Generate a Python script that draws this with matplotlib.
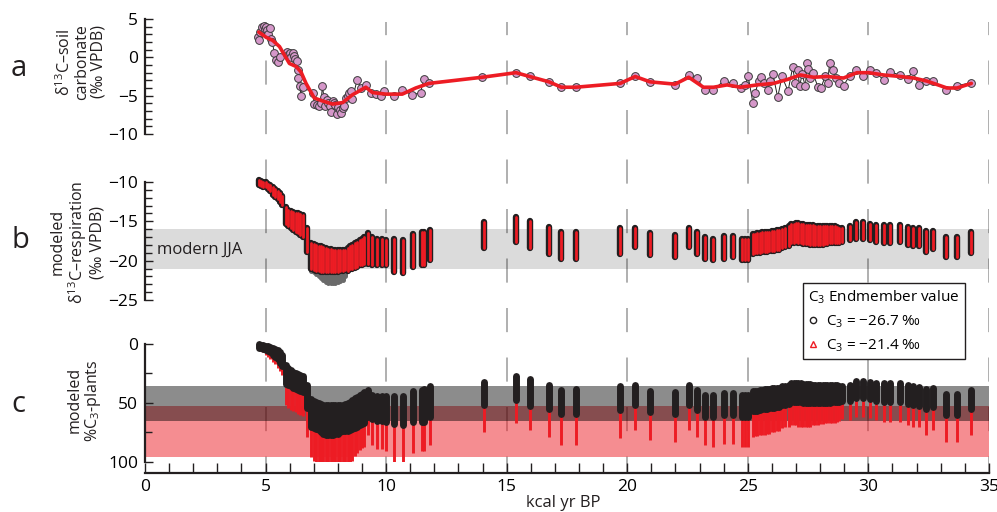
import matplotlib
matplotlib.use('Agg')
import matplotlib.pyplot as plt
from matplotlib.lines import Line2D
from matplotlib.ticker import MultipleLocator

plt.rcParams['font.family'] = ['Open Sans', 'DejaVu Sans']
plt.rcParams['mathtext.fontset'] = 'custom'
plt.rcParams['mathtext.rm'] = 'Open Sans'
plt.rcParams['mathtext.default'] = 'regular'

# --- panel a: soil carbonate d13C (kyr BP, per mil)
carb_age = [4.68, 4.72, 4.78, 4.85, 4.92, 4.98, 5.03, 5.08, 5.12, 5.17, 5.22, 5.28,
            5.37, 5.44, 5.51, 5.58, 5.88, 5.95, 6.02, 6.06, 6.13, 6.2, 6.24, 6.3,
            6.33, 6.36, 6.42, 6.47, 6.54, 6.96, 7.02, 7.12, 7.2, 7.3, 7.36, 7.42,
            7.48, 7.54, 7.6, 7.66, 7.71, 7.78, 7.84, 7.9, 7.95, 8.02, 8.08, 8.13,
            8.2, 8.27, 8.33, 8.4, 8.47, 8.54, 8.6, 8.8, 8.95, 9.16, 9.37, 9.57,
            9.78, 9.92, 10.33, 10.67, 11.09, 11.43, 11.57, 11.78, 13.98, 15.39,
            15.95, 16.76, 17.27, 17.87, 19.71, 20.33, 20.95, 21.98, 22.55, 22.89,
            23.23, 23.54, 24.0, 24.38, 24.73, 24.9, 25.01, 25.21, 25.31, 25.45,
            25.56, 25.66, 25.82, 25.93, 26.04, 26.24, 26.42, 26.67, 26.86, 26.97,
            27.07, 27.15, 27.25, 27.39, 27.45, 27.48, 27.59, 27.7, 27.91, 28.03,
            28.22, 28.31, 28.39, 28.53, 28.67, 28.77, 28.97, 29.22, 29.5, 29.78,
            30.05, 30.33, 30.66, 30.91, 31.3, 31.63, 31.84, 32.08, 32.4, 32.67,
            33.23, 33.68, 34.27]
carb_d13c = [2.6, 2.2, 3.3, 4.0, 4.1, 3.7, 4.0, 3.5, 3.0, 3.8, 2.4, 2.0,
             0.5, -0.4, -0.6, 0.1, 0.7, 0.3, 0.6, 0.0, 0.6, 0.2, -0.2, -0.5,
             -1.6, -2.7, -3.8, -5.0, -3.9, -4.6, -6.1, -6.2, -6.3, -6.0, -3.7, -5.2,
             -6.4, -5.6, -5.9, -6.3, -7.1, -5.7, -6.0, -6.2, -7.4, -6.5, -6.9, -7.2,
             -6.6, -6.3, -5.3, -5.1, -4.7, -4.4, -5.5, -2.9, -4.0, -3.6, -4.6, -4.8,
             -5.0, -4.4, -5.1, -4.3, -4.9, -4.6, -2.8, -3.3, -2.6, -2.0,
             -2.5, -3.2, -3.9, -3.9, -3.4, -2.5, -3.2, -3.6, -2.3, -2.7,
             -4.3, -4.3, -3.1, -3.4, -4.0, -3.6, -2.4, -5.9, -4.6, -3.1,
             -2.6, -3.4, -4.3, -3.1, -2.2, -5.2, -2.5, -4.4, -1.3, -3.3,
             -1.7, -3.8, -2.2, -3.8, -0.7, -1.5, -2.7, -2.0, -3.9, -4.0,
             -2.4, -3.4, -0.8, -1.7, -2.7, -3.4, -3.7, -2.4, -1.6, -2.5,
             -1.7, -2.1, -3.0, -1.9, -2.3, -2.8, -1.8, -3.6, -3.1, -3.1,
             -4.2, -3.7, -3.3]
smooth_age = [4.72, 5.03, 5.3, 5.58, 5.99, 6.27, 6.47, 6.68, 7.02, 7.37, 7.78, 8.2,
              8.6, 9.16, 9.44, 9.99, 10.67, 11.23, 11.78, 13.98, 15.39, 15.95, 16.76,
              17.27, 17.87, 19.71, 20.33, 20.95, 21.98, 22.55, 23.16, 23.58, 24.14,
              24.69, 25.38, 26.07, 26.63, 27.18, 27.73, 28.28, 28.97, 29.53, 30.01,
              30.63, 31.32, 31.88, 32.43, 33.26, 33.68, 34.27]
smooth_d13c = [3.3, 2.6, 2.2, 1.4, -0.8, -1.2, -1.9, -3.4, -5.3, -5.7, -6.1, -5.9,
               -4.9, -3.9, -4.6, -4.8, -4.8, -4.0, -3.4, -2.6, -2.0, -2.5, -3.2,
               -3.9, -3.9, -3.4, -2.5, -3.2, -3.5, -2.6, -3.9, -3.9, -3.6,
               -3.9, -3.6, -3.4, -2.9, -2.3, -2.6, -2.5, -2.7, -2.0, -2.0,
               -2.3, -2.5, -2.7, -3.1, -4.0, -4.0, -3.4]

# --- panels b and c: model ranges at each age
model_age = [4.72, 4.8, 4.9, 5.0, 5.1, 5.2, 5.3, 5.4, 5.5, 5.6, 5.7,
             5.85, 5.95, 6.05, 6.15, 6.25, 6.35, 6.45, 6.55,
             6.74,
             6.9, 7.0, 7.1, 7.2, 7.3, 7.4, 7.5, 7.6, 7.7, 7.8, 7.9, 8.0, 8.1, 8.2, 8.3,
             8.4, 8.5, 8.6, 8.7, 8.8, 8.9, 9.0, 9.1,
             9.23, 9.43, 9.61, 9.82, 9.99, 10.32, 10.71, 11.12, 11.47, 11.58, 11.81,
             14.04, 15.39, 15.95, 16.76, 17.27, 17.87, 19.71, 20.33, 20.95, 21.98,
             22.55, 22.89, 23.23, 23.54, 24.0, 24.38, 24.75, 24.9, 25.02,
             25.2, 25.3, 25.4, 25.5, 25.6, 25.7, 25.8, 25.9, 26.0, 26.1, 26.2, 26.3,
             26.4, 26.55, 26.7,
             26.8, 26.9, 27.0, 27.1, 27.2, 27.3, 27.4, 27.5, 27.6, 27.7, 27.8, 27.9,
             28.0, 28.1, 28.2, 28.3, 28.4, 28.5, 28.6, 28.7, 28.8, 28.9,
             29.22, 29.5, 29.78, 30.05, 30.33, 30.66, 30.91, 31.3, 31.63, 31.84,
             32.08, 32.4, 32.67, 33.23, 33.68, 34.27]

resp_hi = [-9.8, -9.9, -10.0, -10.0, -10.2, -10.4, -10.6, -10.9, -11.1, -11.4, -11.8,
           -13.2, -13.5, -13.7, -13.8, -13.9, -14.0, -14.1, -14.2,
           -15.9,
           -17.8, -17.9, -18.0, -18.1, -18.2, -18.3, -18.4, -18.5, -18.5, -18.6, -18.6,
           -18.7, -18.7, -18.7, -18.6,
           -18.4, -18.2, -18.0, -17.8, -17.6, -17.4, -17.2, -17.0,
           -16.5, -17.0, -17.2, -17.3, -17.4, -17.3, -17.4, -16.6, -16.3, -16.3, -16.1,
           -15.1, -14.5, -14.9, -15.7, -16.3, -16.3, -15.8, -15.8, -16.5, -16.8,
           -15.8, -16.3, -17.0, -17.2, -16.9, -16.9, -17.2, -17.2, -17.2,
           -16.6, -16.6, -16.5, -16.5, -16.4, -16.4, -16.3, -16.3, -16.2, -16.2, -16.1, -16.1,
           -16.0, -15.8, -15.6,
           -15.4, -15.3, -15.2, -15.2, -15.3, -15.4, -15.5, -15.5, -15.5, -15.5, -15.6,
           -15.6, -15.6, -15.6, -15.6, -15.6, -15.6, -15.6, -15.6, -15.7, -15.8, -15.9,
           -15.6, -15.1, -15.1, -15.3, -15.5, -15.5, -15.5, -15.5, -15.7, -15.8,
           -15.9, -16.2, -16.2, -17.0, -17.0, -16.3]
resp_lo = [-10.4, -10.5, -10.6, -10.7, -10.9, -11.2, -11.6, -11.9, -12.2, -12.5, -12.9,
           -15.3, -15.6, -15.9, -16.1, -16.3, -16.5, -16.8, -17.0,
           -18.9,
           -21.0, -21.2, -21.3, -21.3, -21.4, -21.4, -21.4, -21.4, -21.4, -21.4, -21.4,
           -21.4, -21.3, -21.3, -21.2,
           -21.3, -21.1, -21.0, -20.9, -20.8, -20.6, -20.5, -20.4,
           -20.4, -20.6, -20.6, -20.6, -20.6, -21.4, -21.6, -20.8, -20.6, -20.6, -19.9,
           -18.4, -17.6, -18.4, -19.1, -19.8, -19.8, -19.2, -18.3, -19.3, -19.6,
           -18.3, -19.2, -19.8, -19.9, -19.8, -19.6, -19.9, -19.9, -19.9,
           -19.1, -19.0, -19.0, -19.0, -18.9, -18.9, -18.9, -18.8, -18.8, -18.8, -18.7, -18.7,
           -18.4, -18.3, -18.2,
           -17.8, -17.7, -17.6, -17.7, -17.8, -17.9, -17.9, -17.9, -18.0, -18.0, -18.0,
           -18.0, -18.0, -18.0, -17.9, -17.9, -17.8, -17.8, -17.8, -17.7, -17.7, -17.6,
           -17.4, -17.2, -17.3, -17.4, -17.6, -17.7, -17.7, -17.6, -18.0, -18.1,
           -18.1, -18.9, -18.5, -19.5, -19.5, -19.0]

# black circles reaching lower than the red ones around 7-8 kyr
deep_age = [6.9, 7.0, 7.1, 7.2, 7.3, 7.4, 7.5, 7.6, 7.7, 7.8, 7.9, 8.0, 8.1, 8.2, 8.3]
deep_hi = [-21.0, -21.2, -21.3, -21.3, -21.4, -21.4, -21.4, -21.4, -21.4, -21.4, -21.4,
           -21.4, -21.3, -21.3, -21.2]
deep_lo = [-21.3, -21.5, -21.7, -21.9, -22.2, -22.5, -22.7, -22.8, -22.8, -22.8, -22.8,
           -22.7, -22.6, -22.4, -22.0]

c3_top = [0, 0.5, 1, 1.5, 2, 2.5, 3.5, 4.5, 5.5, 7, 9,
          18, 20, 22, 23.5, 24.5, 25.5, 26.5, 27.5,
          35,
          47, 48, 49, 50, 51, 51.5, 52, 52, 52, 52, 52, 52, 52, 51.5, 51,
          50, 49, 47.5, 46, 45, 43.5, 42, 41,
          39, 43, 44, 44.5, 44, 44, 44.5, 40, 39, 38.5, 36,
          32, 27, 30, 35, 39, 38.4, 35.6, 35, 39.8, 41, 35, 39, 43.2, 43.2, 41.2, 41.2,
          43, 43, 43,
          40, 40, 39.5, 39, 39, 38.5, 38, 38, 37.5, 37.5, 37, 37,
          36, 35.5, 34.5,
          33, 32.8, 32.8, 33, 33.5, 34, 34, 34, 34.2, 34.4, 34.6, 34.6, 34.6, 34.6,
          34.6, 34.5, 34.5, 34.5, 34.5, 35, 35.5, 36,
          34.7, 31, 31, 31.9, 33.3, 33.3, 33.3, 33.3, 34.7, 35.6, 36.2, 38.4, 37.6,
          42.4, 42.4, 39]
c3_black_bot = [3, 3.5, 4, 5, 6, 7, 9, 11, 13, 16, 19,
                34, 35, 36, 37, 38, 39, 40, 41,
                54,
                70, 71, 72, 73, 75, 76, 77, 77, 77, 77, 76, 76, 75, 74, 74,
                74, 73, 72, 71, 70, 69, 68, 67,
                62, 64, 65.5, 65.5, 66, 68, 69, 66.5, 66, 66, 61.6,
                51.7, 47.5, 52.5, 55, 59, 59.3, 56, 51.7, 57.3, 59.3, 51.7, 56, 61.6,
                61.6, 60.2, 60.2, 61.6, 61.6, 61.6,
                57, 57, 56.5, 56, 55.5, 55, 55, 54.5, 54, 54, 53.5, 53,
                52, 51.5, 51,
                49, 49, 49, 49.2, 49.5, 49.8, 49.8, 50, 50.2, 50.4, 50.4, 50.4, 50.4,
                50.2, 50, 50, 49.8, 49.6, 49.4, 49.2, 49, 48.6,
                48, 46, 46, 46.9, 48, 48.9, 48.9, 48.9, 50.8, 51.7, 52.5, 55.4, 53.1,
                60.2, 60.2, 55.4]
c3_red_bot = [5, 6, 7, 9, 11, 13, 15, 17, 20, 23, 26,
              52, 54, 56, 57, 58, 59, 60, 61,
              79,
              96, 99, 100, 100, 100, 100, 100, 100, 100, 100, 100, 100, 100, 100, 100,
              100, 100, 99, 95, 92, 90, 88, 87,
              77, 86, 89, 89, 91, 100, 100, 92, 91, 91, 86,
              74.3, 67, 73, 79, 85.6, 85.6, 80, 73, 81.4, 82.8, 73, 78.5, 85.6, 87,
              84.7, 84.7, 87, 87, 87,
              79, 78, 78, 77, 77, 77, 76, 76, 75, 75, 74, 74,
              71, 70, 70,
              69, 69, 69, 70, 70, 70, 70, 70, 70, 69, 69, 69, 68, 68, 67, 67, 67, 67,
              67, 66, 65, 64,
              64.4, 61.6, 61.6, 63, 64.4, 65.8, 65.8, 65.8, 68.6, 70.1, 70.1, 77.1,
              72.9, 82.8, 82.8, 77.1]

modern_resp = [-21, -16]       # modern JJA respiration band
c3_band_black = [35.6, 65.3]   # range for C3 = -26.7
c3_band_red = [52.5, 96]       # range for C3 = -21.4
grid_ages = [5, 10, 15, 20, 25, 30, 35]

RED = '#ed1c24'
INK = '#231f20'

fig = plt.figure(figsize=(9.97, 5.12), dpi=100)
L, W = 0.1454, 0.8465

# dashed guide lines behind all panels (y in pixels from the top)
ax_bg = fig.add_axes([L, 0, W, 1], zorder=0)
ax_bg.set_xlim(0, 35)
ax_bg.set_ylim(512, 0)
ax_bg.axis('off')
for g in grid_ages:
    ax_bg.plot([g, g], [22, 473], color='#9a9a9a', lw=1.1,
               linestyle=(7.2, (15.8, 16.6)))


def style_left(ax):
    for s in ['top', 'right', 'bottom']:
        ax.spines[s].set_visible(False)
    ax.spines['left'].set_linewidth(1.6)
    ax.spines['left'].set_color(INK)
    ax.patch.set_alpha(0)
    ax.set_xlim(0, 35)
    ax.tick_params(axis='y', which='both', direction='in', width=1, color=INK,
                   pad=5, labelsize=12.5)
    ax.tick_params(axis='y', which='major', length=5.5)
    ax.tick_params(axis='y', which='minor', length=5)


# ---- a
ax_a = fig.add_axes([L, 0.7383, W, 0.2246], zorder=1)
style_left(ax_a)
ax_a.plot(carb_age, carb_d13c, color=INK, lw=0.7, zorder=2)
ax_a.plot(carb_age, carb_d13c, 'o', ms=5.6, mfc='#d597c9', mec='#3a3a3a', mew=0.7, zorder=3)
ax_a.plot(smooth_age, smooth_d13c, color=RED, lw=2.6, zorder=4, solid_capstyle='round')
ax_a.set_ylim(-10, 5)
ax_a.set_xticks([])
ax_a.yaxis.set_major_locator(MultipleLocator(5))
ax_a.yaxis.set_minor_locator(MultipleLocator(1))

# ---- b
ax_b = fig.add_axes([L, 0.4141, W, 0.2305], zorder=1)
style_left(ax_b)
ax_b.axhspan(modern_resp[0], modern_resp[1], color='k', alpha=0.14, lw=0, zorder=1)
ax_b.text(0.5, -18.6, 'modern JJA', fontsize=12, va='center', ha='left', color=INK)
deep = ax_b.vlines(deep_age, deep_lo, deep_hi, colors='#6a6a6a', lw=3.6, zorder=2)
blk = ax_b.vlines(model_age, resp_lo, resp_hi, colors=INK, lw=4.6, zorder=2)
red = ax_b.vlines(model_age, resp_lo, resp_hi, colors=RED, lw=2.0, zorder=3)
for lc in (blk, deep, red):
    lc.set_capstyle('round')
    lc.set_clip_on(False)
ax_b.set_ylim(-25, -10)
ax_b.set_xticks([])
ax_b.yaxis.set_major_locator(MultipleLocator(5))
ax_b.yaxis.set_minor_locator(MultipleLocator(1))

# ---- c
ax_c = fig.add_axes([L, 0.0977, W, 0.2305], zorder=1)
style_left(ax_c)
ax_c.axhspan(c3_band_red[0], c3_band_red[1], color=RED, alpha=0.5, lw=0, zorder=1)
ax_c.axhspan(c3_band_black[0], c3_band_black[1], color='k', alpha=0.45, lw=0, zorder=1)
red_c = ax_c.vlines(model_age, c3_top, c3_red_bot, colors=RED, lw=2.1, zorder=2)
blk_c = ax_c.vlines(model_age, c3_top, c3_black_bot, colors=INK, lw=5.0, zorder=3)
red_c.set_capstyle('butt')
blk_c.set_capstyle('round')
blk_c.set_clip_on(False)
ax_c.set_ylim(100, 0)
ax_c.yaxis.set_major_locator(MultipleLocator(50))
ax_c.yaxis.set_minor_locator(MultipleLocator(25))
ax_c.spines['bottom'].set_visible(True)
ax_c.spines['bottom'].set_linewidth(1.6)
ax_c.spines['bottom'].set_color(INK)
ax_c.spines['bottom'].set_position(('outward', 8))
ax_c.xaxis.set_major_locator(MultipleLocator(5))
ax_c.xaxis.set_minor_locator(MultipleLocator(1))
ax_c.tick_params(axis='x', which='both', direction='in', length=7, width=1, color=INK,
                 pad=4, labelsize=12.5)

# labels
fig.text(0.019, 0.866, 'a', fontsize=21, ha='center', va='center', color=INK)
fig.text(0.020, 0.531, 'b', fontsize=21, ha='center', va='center', color=INK)
fig.text(0.018, 0.209, 'c', fontsize=21, ha='center', va='center', color=INK)
fig.text(0.081, 0.879, 'δ$^{13}$C–soil\ncarbonate\n(‰ VPDB)', rotation=90, fontsize=11.5,
         ha='center', va='center', multialignment='center', linespacing=1.05, color=INK)
fig.text(0.078, 0.527, 'modeled\nδ$^{13}$C–respiration\n(‰ VPDB)', rotation=90,
         fontsize=11.5, ha='center', va='center', multialignment='center',
         linespacing=1.05, color=INK)
fig.text(0.085, 0.218, 'modeled\n%C$_3$-plants', rotation=90, fontsize=11.5,
         ha='center', va='center', multialignment='center', linespacing=1.05, color=INK)
fig.text(0.565, 0.018, 'kcal yr BP', fontsize=12, ha='center', va='center', color=INK)

handles = [Line2D([], [], ls='none', marker='o', ms=4.5, mfc='none', mec=INK, mew=1),
           Line2D([], [], ls='none', marker='^', ms=4.5, mfc='none', mec=RED, mew=1)]
leg = fig.legend(handles, ['C$_3$ = −26.7 ‰', 'C$_3$ = −21.4 ‰'],
                 title='C$_3$ Endmember value', loc='upper left',
                 bbox_to_anchor=(0.805, 0.447), frameon=True, fancybox=False,
                 edgecolor=INK, framealpha=1, fontsize=11, title_fontsize=11,
                 alignment='left', handlelength=0.7, handletextpad=0.5,
                 borderpad=0.35, labelspacing=0.5, borderaxespad=0)
leg.get_frame().set_linewidth(1.0)

fig.savefig('out.png', dpi=100)
